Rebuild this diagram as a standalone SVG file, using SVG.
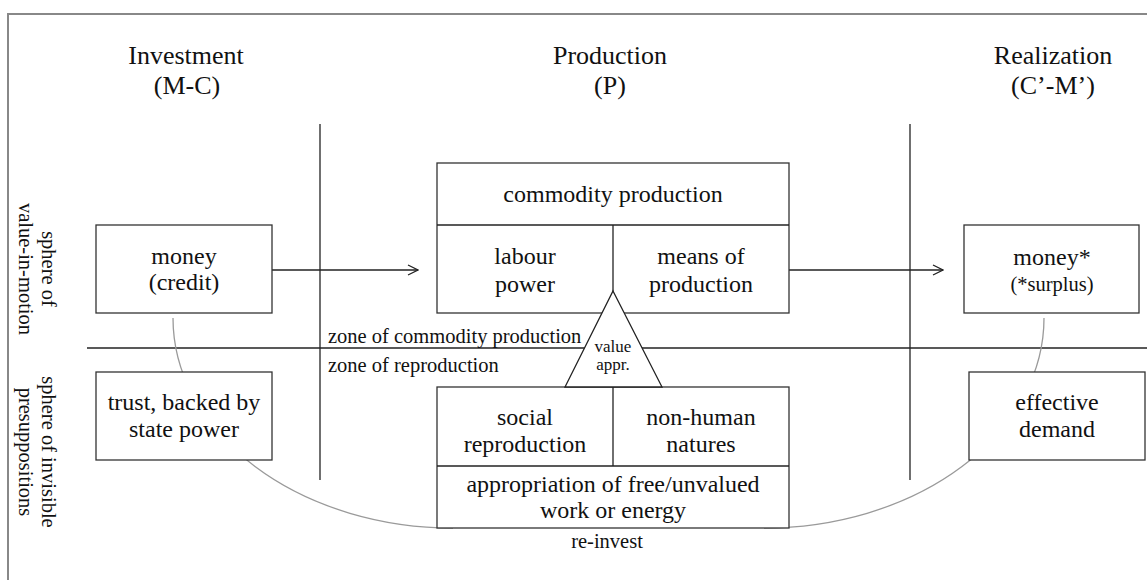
<svg xmlns="http://www.w3.org/2000/svg" width="1147" height="580" viewBox="0 0 1147 580">
<defs>
<style>
text{font-family:"Liberation Serif","Times New Roman",serif;fill:#111;text-anchor:middle}
.h{font-size:26px}
.t{font-size:24px}
.s{font-size:20.5px}
.v{font-size:17px}
.z{text-anchor:start}
.box{fill:#fff;stroke:#333;stroke-width:1.3}
.ln{stroke:#222;stroke-width:1.3;fill:none}
.arc{stroke:#9a9a9a;stroke-width:1.3;fill:none}
</style>
<marker id="chev" viewBox="0 0 12 12" refX="11" refY="6" markerWidth="12" markerHeight="12" markerUnits="userSpaceOnUse" orient="auto">
<path d="M1,1 L11,6 L1,11" fill="none" stroke="#222" stroke-width="1.3"/>
</marker>
</defs>
<rect width="1147" height="580" fill="#fff"/>
<path d="M8,580 V14 H1147" fill="none" stroke="#888" stroke-width="2"/>

<g id="headings">
<text class="h" x="186" y="64">Investment</text>
<text class="h" x="187" y="94">(M-C)</text>
<text class="h" x="610" y="64">Production</text>
<text class="h" x="610" y="94">(P)</text>
<text class="h" x="1053" y="64">Realization</text>
<text class="h" x="1053" y="94">(C’-M’)</text>
</g>

<g id="side-labels">
<text class="s" transform="translate(42,269) rotate(90)">sphere of</text>
<text class="s" transform="translate(19,269) rotate(90)">value-in-motion</text>
<text class="s" transform="translate(42,452) rotate(90)">sphere of invisible</text>
<text class="s" transform="translate(19,452) rotate(90)">presuppositions</text>
</g>

<g id="dividers">
<line class="ln" x1="320" y1="124" x2="320" y2="480"/>
<line class="ln" x1="910" y1="124" x2="910" y2="480"/>
<line class="ln" x1="87" y1="348" x2="1147" y2="348"/>
<text class="s z" x="328" y="343">zone of commodity production</text>
<text class="s z" x="328" y="372">zone of reproduction</text>
</g>

<g id="connectors">
<path class="arc" d="M173,318 A280,210 0 0 0 453,528"/>
<path class="arc" d="M764,528 A280,210 0 0 0 1044,318"/>
<line class="ln" x1="272" y1="270" x2="418" y2="270" marker-end="url(#chev)"/>
<line class="ln" x1="789" y1="270" x2="943" y2="270" marker-end="url(#chev)"/>
<text class="s" x="607" y="548">re-invest</text>
</g>

<g id="money-credit">
<rect class="box" x="96" y="225" width="176" height="88"/>
<text class="t" x="184" y="264">money</text>
<text class="t" x="184" y="290">(credit)</text>
</g>

<g id="trust">
<rect class="box" x="96" y="372" width="176" height="88"/>
<text class="t" x="184" y="410">trust, backed by</text>
<text class="t" x="184" y="437">state power</text>
</g>

<g id="commodity-production">
<rect class="box" x="437" y="163" width="352" height="150"/>
<line class="ln" x1="437" y1="225" x2="789" y2="225"/>
<line class="ln" x1="613" y1="225" x2="613" y2="313"/>
<text class="t" x="613" y="202">commodity production</text>
<text class="t" x="525" y="264">labour</text>
<text class="t" x="525" y="292">power</text>
<text class="t" x="701" y="264">means of</text>
<text class="t" x="701" y="292">production</text>
</g>

<g id="appropriation">
<rect class="box" x="437" y="387" width="352" height="141"/>
<line class="ln" x1="437" y1="466" x2="789" y2="466"/>
<line class="ln" x1="613" y1="387" x2="613" y2="466"/>
<text class="t" x="525" y="425">social</text>
<text class="t" x="525" y="452">reproduction</text>
<text class="t" x="701" y="425">non-human</text>
<text class="t" x="701" y="452">natures</text>
<text class="t" x="613" y="492">appropriation of free/unvalued</text>
<text class="t" x="613" y="518">work or energy</text>
</g>

<g id="value-appr">
<polygon points="613,291 662,387 565,387" fill="#fff" stroke="#222" stroke-width="1.3" stroke-linejoin="miter"/>
<text class="v" x="613" y="352">value</text>
<text class="v" x="613" y="370">appr.</text>
</g>

<g id="money-surplus">
<rect class="box" x="964" y="225" width="175" height="88"/>
<text class="t" x="1052" y="265">money*</text>
<text class="s" x="1052" y="291">(*surplus)</text>
</g>

<g id="effective-demand">
<rect class="box" x="969" y="372" width="176" height="88"/>
<text class="t" x="1057" y="410">effective</text>
<text class="t" x="1057" y="437">demand</text>
</g>
</svg>
